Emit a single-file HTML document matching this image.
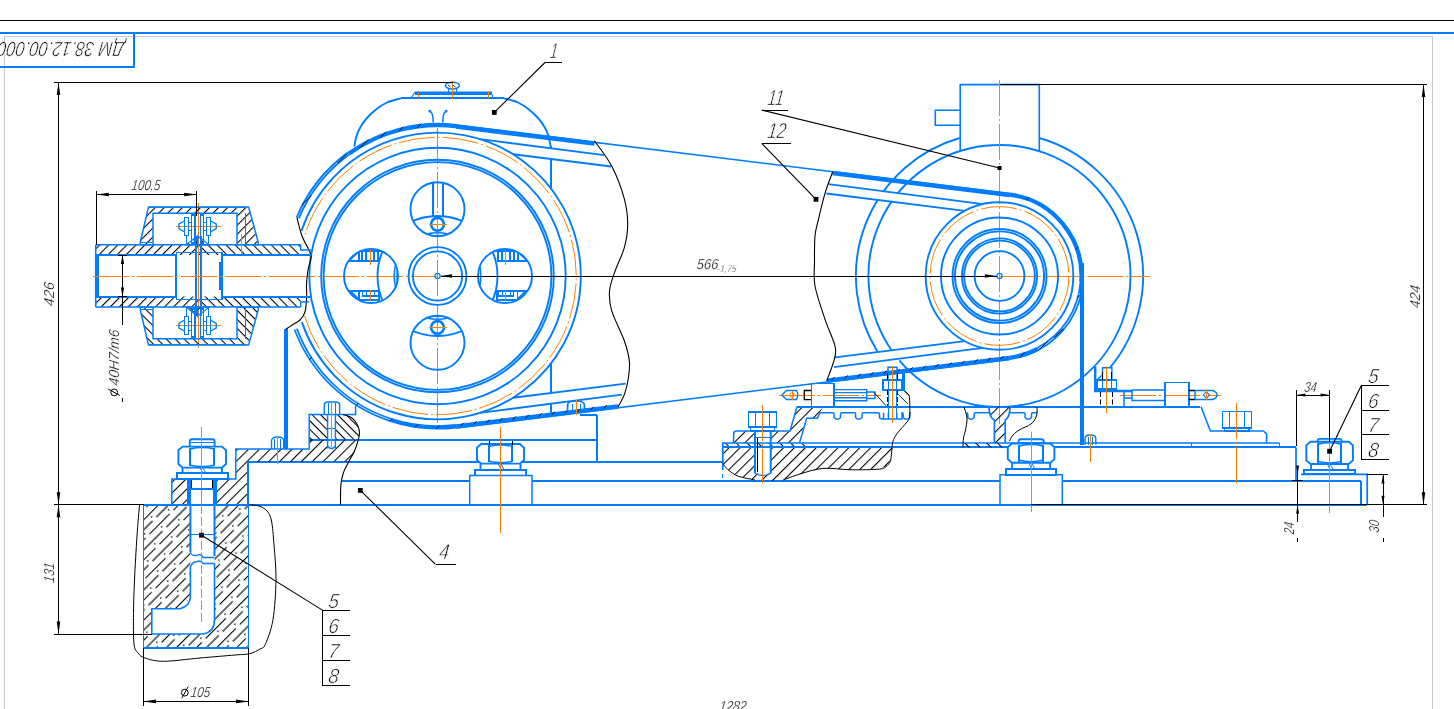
<!DOCTYPE html>
<html><head><meta charset="utf-8"><title>drawing</title>
<style>
html,body{margin:0;padding:0;background:#fff;overflow:hidden}
svg{display:block}
text{font-family:"Liberation Sans",sans-serif;}
svg{will-change:transform;}
</style></head><body>
<svg width="1454" height="709" viewBox="0 0 1454 709">
<rect width="1454" height="709" fill="#fff"/>
<defs>
<pattern id="hA" width="7.7" height="7.7" patternUnits="userSpaceOnUse" patternTransform="rotate(-45)"><line x1="0" y1="0.5" x2="7.7" y2="0.5" stroke="#000" stroke-width="1.15"/></pattern>
<pattern id="hB" width="7.7" height="7.7" patternUnits="userSpaceOnUse" patternTransform="rotate(45)"><line x1="0" y1="0.5" x2="7.7" y2="0.5" stroke="#000" stroke-width="1.15"/></pattern>
<pattern id="hC" width="6.4" height="6.4" patternUnits="userSpaceOnUse" patternTransform="rotate(-45)"><line x1="0" y1="0.5" x2="6.4" y2="0.5" stroke="#000" stroke-width="1.15"/></pattern>
<pattern id="hD" width="6.4" height="6.4" patternUnits="userSpaceOnUse" patternTransform="rotate(45)"><line x1="0" y1="0.5" x2="6.4" y2="0.5" stroke="#000" stroke-width="1.15"/></pattern>
<pattern id="hE" width="6.0" height="6.0" patternUnits="userSpaceOnUse" patternTransform="rotate(45)"><line x1="0" y1="0.5" x2="6.0" y2="0.5" stroke="#000" stroke-width="1.15"/></pattern>
<pattern id="conc" width="34" height="14.2" patternUnits="userSpaceOnUse" patternTransform="rotate(-45)"><line x1="0" y1="0.5" x2="28.5" y2="0.5" stroke="#000" stroke-width="1.15"/><line x1="17" y1="7.6" x2="34" y2="7.6" stroke="#000" stroke-width="1.15"/><line x1="0" y1="7.6" x2="11.5" y2="7.6" stroke="#000" stroke-width="1.15"/><rect x="13" y="3.4" width="1.4" height="1.4" fill="#000"/><rect x="30" y="10.4" width="1.4" height="1.4" fill="#000"/></pattern>
</defs>
<path d="M1109.83 367.92 A143.60 143.60 0 0 0 1039.32 138.03" fill="none" stroke="#007dff" stroke-width="1.9" />
<path d="M959.68 138.03 A143.60 143.60 0 0 0 877.46 351.67" fill="none" stroke="#007dff" stroke-width="1.9" />
<path d="M899.30 360.38 A131.00 131.00 0 1 0 891.54 350.20" fill="none" stroke="#007dff" stroke-width="1.9" />
<path d="M960.2 151 V84.6 H1039.3 V151" fill="none" stroke="#007dff" stroke-width="1.6" />
<path d="M960.2 110.3 H935.3 V125.2 H960.2" fill="none" stroke="#007dff" stroke-width="1.6" />
<path d="M354.40 146.50 C354.75 144.75 355.48 139.25 356.50 136.00 C357.52 132.75 358.75 130.00 360.50 127.00 C362.25 124.00 364.42 120.92 367.00 118.00 C369.58 115.08 372.67 112.08 376.00 109.50 C379.33 106.92 382.83 104.37 387.00 102.50 C391.17 100.63 398.67 99.00 401.00 98.30" fill="none" stroke="#007dff" stroke-width="1.9" />
<path d="M550.60 146.50 C550.25 144.75 549.52 139.25 548.50 136.00 C547.48 132.75 546.25 130.00 544.50 127.00 C542.75 124.00 540.58 120.92 538.00 118.00 C535.42 115.08 532.33 112.08 529.00 109.50 C525.67 106.92 522.17 104.37 518.00 102.50 C513.83 100.63 506.33 99.00 504.00 98.30" fill="none" stroke="#007dff" stroke-width="1.9" />
<line x1="401.00" y1="98.00" x2="504.00" y2="98.00" stroke="#007dff" stroke-width="2"  shape-rendering="crispEdges"/>
<line x1="551.00" y1="146.00" x2="551.00" y2="187.70" stroke="#007dff" stroke-width="2"  shape-rendering="crispEdges"/>
<line x1="551.00" y1="364.00" x2="551.00" y2="413.60" stroke="#007dff" stroke-width="2"  shape-rendering="crispEdges"/>
<path d="M479.83 139.10 L604.00 155.13 L611.20 166.55 L513.09 154.26 Z" fill="#fff" stroke="none" stroke-width="0" />
<path d="M828.50 184.14 L982.93 204.08 L964.78 210.88 L826.30 193.52 Z" fill="#fff" stroke="none" stroke-width="0" />
<path d="M479.83 412.90 L621.80 394.57 L625.70 383.63 L513.09 397.74 Z" fill="#fff" stroke="none" stroke-width="0" />
<path d="M833.90 367.17 L982.93 347.92 L964.78 341.12 L835.00 357.39 Z" fill="#fff" stroke="none" stroke-width="0" />
<line x1="0.00" y1="20.50" x2="1454.00" y2="20.50" stroke="#000" stroke-width="1"  shape-rendering="crispEdges"/>
<line x1="0.00" y1="33.00" x2="1454.00" y2="33.00" stroke="#007dff" stroke-width="2"  shape-rendering="crispEdges"/>
<path d="M4.5 709 V36.5 H1432.5 V709" fill="none" stroke="#c8c8c8" stroke-width="1" />
<path d="M133.7 33 V66.8 H0" fill="none" stroke="#007dff" stroke-width="2.0" shape-rendering="crispEdges"/>
<text transform="translate(125.20 41.60) rotate(180) skewX(-7)" x="0" y="0" font-size="20.5" text-anchor="start" fill="#000" font-style="italic" stroke="#fff" stroke-width="0.6" paint-order="fill stroke" textLength="127" lengthAdjust="spacingAndGlyphs" >ДМ 38.12.00.000</text>
<line x1="437.50" y1="128.00" x2="437.50" y2="423.00" stroke="#ff8000" stroke-width="1" stroke-dasharray="36 3 2 3"/>
<line x1="279.00" y1="276.50" x2="437.50" y2="276.50" stroke="#ff8000" stroke-width="1" stroke-dasharray="36 3 2 3"/>
<path d="M456.04 126.14 A151.00 151.00 0 0 0 348.74 153.84" fill="none" stroke="#007dff" stroke-width="4.3" />
<path d="M349.21 154.49 A150.20 150.20 0 0 0 298.83 218.28" fill="none" stroke="#007dff" stroke-width="1.9" />
<path d="M347.86 152.62 A152.50 152.50 0 0 0 296.71 217.39" fill="none" stroke="#007dff" stroke-width="1.9" />
<path d="M390.71 419.99 A151.40 151.40 0 0 0 456.09 426.25" fill="none" stroke="#007dff" stroke-width="4.3" />
<path d="M296.81 328.60 A150.20 150.20 0 0 0 391.09 418.85" fill="none" stroke="#007dff" stroke-width="1.7" />
<path d="M294.56 329.44 A152.60 152.60 0 0 0 390.34 421.13" fill="none" stroke="#007dff" stroke-width="1.7" />
<line x1="417.11" y1="127.78" x2="421.01" y2="123.88" stroke="#000" stroke-width="0.9" />
<line x1="398.56" y1="131.53" x2="403.23" y2="126.86" stroke="#000" stroke-width="0.9" />
<line x1="380.32" y1="137.70" x2="386.23" y2="131.79" stroke="#000" stroke-width="0.9" />
<line x1="359.79" y1="148.03" x2="368.51" y2="139.31" stroke="#000" stroke-width="0.9" />
<line x1="337.69" y1="163.01" x2="346.88" y2="153.82" stroke="#000" stroke-width="0.9" />
<line x1="301.87" y1="204.95" x2="311.07" y2="195.75" stroke="#000" stroke-width="0.9" />
<line x1="309.38" y1="359.63" x2="311.84" y2="357.17" stroke="#000" stroke-width="0.9" />
<line x1="356.09" y1="405.54" x2="358.56" y2="403.08" stroke="#000" stroke-width="0.9" />
<line x1="389.40" y1="421.24" x2="392.09" y2="418.55" stroke="#000" stroke-width="0.9" />
<line x1="414.94" y1="427.33" x2="417.95" y2="424.32" stroke="#000" stroke-width="0.9" />
<line x1="435.80" y1="429.00" x2="439.20" y2="425.60" stroke="#000" stroke-width="0.9" />
<path d="M301.85 322.18 A143.30 143.30 0 1 0 301.45 231.00" fill="none" stroke="#007dff" stroke-width="1.9" />
<path d="M304.55 315.89 A138.80 138.80 0 1 0 304.01 237.97" fill="none" stroke="#ff8000" stroke-width="1" stroke-dasharray="36 3 2 3"/>
<circle cx="437.50" cy="276.00" r="128.20" fill="none" stroke="#007dff" stroke-width="1.9" />
<circle cx="437.50" cy="276.00" r="116.30" fill="none" stroke="#007dff" stroke-width="1.9" />
<circle cx="437.50" cy="276.00" r="113.90" fill="none" stroke="#007dff" stroke-width="1.9" />
<circle cx="437.50" cy="276.00" r="28.90" fill="none" stroke="#007dff" stroke-width="1.9" />
<circle cx="437.50" cy="276.00" r="24.60" fill="none" stroke="#007dff" stroke-width="1.9" />
<circle cx="437.50" cy="276.00" r="2.60" fill="none" stroke="#007dff" stroke-width="1.2" />
<defs>
<clipPath id="h0"><circle cx="437.5" cy="209.2" r="27.0"/></clipPath>
<clipPath id="h1"><circle cx="437.5" cy="342.8" r="27.0"/></clipPath>
<clipPath id="h2"><circle cx="371.0" cy="276.0" r="27.0"/></clipPath>
<clipPath id="h3"><circle cx="505.0" cy="276.0" r="27.0"/></clipPath>
</defs>
<g clip-path="url(#h0)">
<circle cx="437.50" cy="276.00" r="60.00" fill="none" stroke="#007dff" stroke-width="1.9" />
<circle cx="437.50" cy="276.00" r="40.50" fill="none" stroke="#007dff" stroke-width="1.5" />
<circle cx="437.50" cy="276.00" r="43.30" fill="none" stroke="#007dff" stroke-width="1.5" />
<line x1="433.00" y1="180.00" x2="433.00" y2="216.40" stroke="#007dff" stroke-width="2"  shape-rendering="crispEdges"/>
<line x1="443.00" y1="180.00" x2="443.00" y2="216.40" stroke="#007dff" stroke-width="2"  shape-rendering="crispEdges"/>
<circle cx="437.50" cy="224.30" r="6.40" fill="none" stroke="#007dff" stroke-width="2.6" />
</g>
<circle cx="437.50" cy="209.20" r="27.00" fill="none" stroke="#007dff" stroke-width="1.9" />
<g clip-path="url(#h1)">
<circle cx="437.50" cy="276.00" r="60.00" fill="none" stroke="#007dff" stroke-width="1.9" />
<circle cx="437.50" cy="276.00" r="40.50" fill="none" stroke="#007dff" stroke-width="1.5" />
<circle cx="437.50" cy="276.00" r="43.30" fill="none" stroke="#007dff" stroke-width="1.5" />
<circle cx="437.50" cy="327.50" r="6.40" fill="none" stroke="#007dff" stroke-width="2.6" />
</g>
<circle cx="437.50" cy="342.80" r="27.00" fill="none" stroke="#007dff" stroke-width="1.9" />
<g clip-path="url(#h2)">
<circle cx="437.50" cy="276.00" r="60.00" fill="none" stroke="#007dff" stroke-width="1.9" />
<circle cx="437.50" cy="276.00" r="40.50" fill="none" stroke="#007dff" stroke-width="1.5" />
<circle cx="437.50" cy="276.00" r="43.30" fill="none" stroke="#007dff" stroke-width="1.5" />
<line x1="340.00" y1="261.00" x2="379.40" y2="261.00" stroke="#007dff" stroke-width="2"  shape-rendering="crispEdges"/>
<line x1="348.30" y1="261.20" x2="358.70" y2="251.30" stroke="#007dff" stroke-width="1.9" />
<line x1="359.00" y1="251.30" x2="359.00" y2="261.20" stroke="#007dff" stroke-width="2"  shape-rendering="crispEdges"/>
<line x1="362.00" y1="251.30" x2="362.00" y2="260.40" stroke="#007dff" stroke-width="2"  shape-rendering="crispEdges"/>
<line x1="366.00" y1="251.30" x2="366.00" y2="260.40" stroke="#007dff" stroke-width="2"  shape-rendering="crispEdges"/>
<line x1="374.00" y1="251.30" x2="374.00" y2="260.40" stroke="#007dff" stroke-width="2"  shape-rendering="crispEdges"/>
<line x1="378.00" y1="251.30" x2="378.00" y2="260.40" stroke="#007dff" stroke-width="2"  shape-rendering="crispEdges"/>
<line x1="358.70" y1="251.00" x2="382.40" y2="251.00" stroke="#007dff" stroke-width="2"  shape-rendering="crispEdges"/>
<line x1="340.00" y1="291.00" x2="379.40" y2="291.00" stroke="#007dff" stroke-width="2"  shape-rendering="crispEdges"/>
<line x1="349.80" y1="290.70" x2="358.70" y2="299.20" stroke="#007dff" stroke-width="1.9" />
<rect x="358.70" y="290.70" width="20.70" height="8.90" fill="none" stroke="#007dff" stroke-width="1.9"  shape-rendering="crispEdges"/>
<line x1="362.50" y1="292.20" x2="362.50" y2="296.20" stroke="#007dff" stroke-width="1"  shape-rendering="crispEdges"/>
<line x1="366.50" y1="292.20" x2="366.50" y2="296.20" stroke="#007dff" stroke-width="1"  shape-rendering="crispEdges"/>
<line x1="374.50" y1="292.20" x2="374.50" y2="296.20" stroke="#007dff" stroke-width="1"  shape-rendering="crispEdges"/>
<line x1="378.50" y1="292.20" x2="378.50" y2="296.20" stroke="#007dff" stroke-width="1"  shape-rendering="crispEdges"/>
<line x1="362.40" y1="296.00" x2="378.00" y2="296.00" stroke="#007dff" stroke-width="2"  shape-rendering="crispEdges"/>
</g>
<circle cx="371.00" cy="276.00" r="27.00" fill="none" stroke="#007dff" stroke-width="1.9" />
<g clip-path="url(#h3)">
<circle cx="437.50" cy="276.00" r="60.00" fill="none" stroke="#007dff" stroke-width="1.9" />
<circle cx="437.50" cy="276.00" r="40.50" fill="none" stroke="#007dff" stroke-width="1.5" />
<circle cx="437.50" cy="276.00" r="43.30" fill="none" stroke="#007dff" stroke-width="1.5" />
<line x1="536.20" y1="261.00" x2="496.80" y2="261.00" stroke="#007dff" stroke-width="2"  shape-rendering="crispEdges"/>
<line x1="527.90" y1="261.20" x2="517.50" y2="251.30" stroke="#007dff" stroke-width="1.9" />
<line x1="518.00" y1="251.30" x2="518.00" y2="261.20" stroke="#007dff" stroke-width="2"  shape-rendering="crispEdges"/>
<line x1="514.00" y1="251.30" x2="514.00" y2="260.40" stroke="#007dff" stroke-width="2"  shape-rendering="crispEdges"/>
<line x1="510.00" y1="251.30" x2="510.00" y2="260.40" stroke="#007dff" stroke-width="2"  shape-rendering="crispEdges"/>
<line x1="502.00" y1="251.30" x2="502.00" y2="260.40" stroke="#007dff" stroke-width="2"  shape-rendering="crispEdges"/>
<line x1="498.00" y1="251.30" x2="498.00" y2="260.40" stroke="#007dff" stroke-width="2"  shape-rendering="crispEdges"/>
<line x1="517.50" y1="251.00" x2="493.80" y2="251.00" stroke="#007dff" stroke-width="2"  shape-rendering="crispEdges"/>
<line x1="536.20" y1="291.00" x2="496.80" y2="291.00" stroke="#007dff" stroke-width="2"  shape-rendering="crispEdges"/>
<line x1="526.40" y1="290.70" x2="517.50" y2="299.20" stroke="#007dff" stroke-width="1.9" />
<rect x="496.80" y="290.70" width="20.70" height="8.90" fill="none" stroke="#007dff" stroke-width="1.9"  shape-rendering="crispEdges"/>
<line x1="513.50" y1="292.20" x2="513.50" y2="296.20" stroke="#007dff" stroke-width="1"  shape-rendering="crispEdges"/>
<line x1="510.50" y1="292.20" x2="510.50" y2="296.20" stroke="#007dff" stroke-width="1"  shape-rendering="crispEdges"/>
<line x1="502.50" y1="292.20" x2="502.50" y2="296.20" stroke="#007dff" stroke-width="1"  shape-rendering="crispEdges"/>
<line x1="498.50" y1="292.20" x2="498.50" y2="296.20" stroke="#007dff" stroke-width="1"  shape-rendering="crispEdges"/>
<line x1="513.80" y1="296.00" x2="498.20" y2="296.00" stroke="#007dff" stroke-width="2"  shape-rendering="crispEdges"/>
</g>
<circle cx="505.00" cy="276.00" r="27.00" fill="none" stroke="#007dff" stroke-width="1.9" />
<line x1="428.50" y1="224.50" x2="446.50" y2="224.50" stroke="#ff8000" stroke-width="1"  shape-rendering="crispEdges"/>
<line x1="428.50" y1="327.50" x2="446.50" y2="327.50" stroke="#ff8000" stroke-width="1"  shape-rendering="crispEdges"/>
<line x1="370.50" y1="249.00" x2="370.50" y2="265.00" stroke="#ff8000" stroke-width="1"  shape-rendering="crispEdges"/>
<line x1="370.50" y1="290.00" x2="370.50" y2="300.00" stroke="#ff8000" stroke-width="1"  shape-rendering="crispEdges"/>
<line x1="505.50" y1="249.00" x2="505.50" y2="265.00" stroke="#ff8000" stroke-width="1"  shape-rendering="crispEdges"/>
<line x1="505.50" y1="290.00" x2="505.50" y2="300.00" stroke="#ff8000" stroke-width="1"  shape-rendering="crispEdges"/>
<line x1="999.50" y1="80.00" x2="999.50" y2="424.00" stroke="#ff8000" stroke-width="1" stroke-dasharray="36 3 2 3"/>
<line x1="999.50" y1="276.50" x2="1150.00" y2="276.50" stroke="#ff8000" stroke-width="1" stroke-dasharray="36 3 2 3"/>
<path d="M1081.30 281.72 A82.00 82.00 0 0 0 1009.57 194.62" fill="none" stroke="#007dff" stroke-width="4.3" />
<path d="M1009.62 357.78 A82.40 82.40 0 0 0 1038.18 348.75" fill="none" stroke="#007dff" stroke-width="4.3" />
<path d="M1037.62 347.70 A81.20 81.20 0 0 0 1080.50 281.66" fill="none" stroke="#007dff" stroke-width="1.7" />
<path d="M1038.75 349.81 A83.60 83.60 0 0 0 1082.90 281.83" fill="none" stroke="#007dff" stroke-width="1.7" />
<line x1="1019.71" y1="357.59" x2="1024.66" y2="352.63" stroke="#000" stroke-width="0.9" />
<line x1="1038.52" y1="350.39" x2="1047.71" y2="341.20" stroke="#000" stroke-width="0.9" />
<line x1="1054.11" y1="337.77" x2="1063.30" y2="328.57" stroke="#000" stroke-width="0.9" />
<line x1="1077.02" y1="298.24" x2="1081.69" y2="293.58" stroke="#000" stroke-width="0.9" />
<line x1="1080.07" y1="273.31" x2="1083.30" y2="270.08" stroke="#000" stroke-width="0.9" />
<line x1="1075.51" y1="249.18" x2="1078.16" y2="246.53" stroke="#000" stroke-width="0.9" />
<line x1="1026.32" y1="199.99" x2="1028.97" y2="197.34" stroke="#000" stroke-width="0.9" />
<circle cx="999.50" cy="276.00" r="73.80" fill="none" stroke="#007dff" stroke-width="1.9" />
<circle cx="999.50" cy="276.00" r="69.40" fill="none" stroke="#ff8000" stroke-width="1" stroke-dasharray="36 3 2 3"/>
<circle cx="999.50" cy="276.00" r="58.50" fill="none" stroke="#007dff" stroke-width="1.9" />
<circle cx="999.50" cy="276.00" r="47.00" fill="none" stroke="#007dff" stroke-width="1.9" />
<circle cx="999.50" cy="276.00" r="44.60" fill="none" stroke="#007dff" stroke-width="1.9" />
<circle cx="999.50" cy="276.00" r="37.60" fill="none" stroke="#007dff" stroke-width="1.9" />
<circle cx="999.50" cy="276.00" r="35.40" fill="none" stroke="#007dff" stroke-width="1.9" />
<circle cx="999.50" cy="276.00" r="24.90" fill="none" stroke="#007dff" stroke-width="1.9" />
<circle cx="999.50" cy="276.00" r="2.60" fill="none" stroke="#007dff" stroke-width="1.2" />
<line x1="456.16" y1="125.15" x2="1009.69" y2="193.63" stroke="#007dff" stroke-width="1.7" />
<line x1="456.16" y1="126.45" x2="594.40" y2="143.55" stroke="#007dff" stroke-width="4.5" />
<line x1="832.50" y1="173.01" x2="1009.69" y2="194.93" stroke="#007dff" stroke-width="4.5" />
<line x1="479.83" y1="139.10" x2="604.00" y2="155.13" stroke="#007dff" stroke-width="1.9" />
<line x1="828.50" y1="184.14" x2="982.93" y2="204.08" stroke="#007dff" stroke-width="1.9" />
<line x1="513.09" y1="154.26" x2="611.20" y2="166.55" stroke="#007dff" stroke-width="1.9" />
<line x1="826.30" y1="193.52" x2="964.78" y2="210.88" stroke="#007dff" stroke-width="1.9" />
<line x1="456.16" y1="427.85" x2="1009.69" y2="359.37" stroke="#007dff" stroke-width="1.7" />
<line x1="456.16" y1="426.55" x2="618.00" y2="406.53" stroke="#007dff" stroke-width="4.5" />
<line x1="827.00" y1="380.67" x2="1009.69" y2="358.07" stroke="#007dff" stroke-width="4.5" />
<line x1="460.56" y1="426.21" x2="463.76" y2="422.81" stroke="#000" stroke-width="0.9" />
<line x1="473.56" y1="424.60" x2="476.76" y2="421.20" stroke="#000" stroke-width="0.9" />
<line x1="486.56" y1="422.99" x2="489.76" y2="419.59" stroke="#000" stroke-width="0.9" />
<line x1="499.56" y1="421.38" x2="502.76" y2="417.98" stroke="#000" stroke-width="0.9" />
<line x1="512.56" y1="419.77" x2="515.76" y2="416.37" stroke="#000" stroke-width="0.9" />
<line x1="525.56" y1="418.17" x2="528.76" y2="414.77" stroke="#000" stroke-width="0.9" />
<line x1="538.56" y1="416.56" x2="541.76" y2="413.16" stroke="#000" stroke-width="0.9" />
<line x1="551.56" y1="414.95" x2="554.76" y2="411.55" stroke="#000" stroke-width="0.9" />
<line x1="564.56" y1="413.34" x2="567.76" y2="409.94" stroke="#000" stroke-width="0.9" />
<line x1="577.56" y1="411.73" x2="580.76" y2="408.33" stroke="#000" stroke-width="0.9" />
<line x1="590.56" y1="410.13" x2="593.76" y2="406.73" stroke="#000" stroke-width="0.9" />
<line x1="603.56" y1="408.52" x2="606.76" y2="405.12" stroke="#000" stroke-width="0.9" />
<line x1="831.40" y1="380.33" x2="834.60" y2="376.93" stroke="#000" stroke-width="0.9" />
<line x1="844.40" y1="378.72" x2="847.60" y2="375.32" stroke="#000" stroke-width="0.9" />
<line x1="857.40" y1="377.11" x2="860.60" y2="373.71" stroke="#000" stroke-width="0.9" />
<line x1="870.40" y1="375.51" x2="873.60" y2="372.11" stroke="#000" stroke-width="0.9" />
<line x1="883.40" y1="373.90" x2="886.60" y2="370.50" stroke="#000" stroke-width="0.9" />
<line x1="896.40" y1="372.29" x2="899.60" y2="368.89" stroke="#000" stroke-width="0.9" />
<line x1="909.40" y1="370.68" x2="912.60" y2="367.28" stroke="#000" stroke-width="0.9" />
<line x1="922.40" y1="369.07" x2="925.60" y2="365.67" stroke="#000" stroke-width="0.9" />
<line x1="935.40" y1="367.46" x2="938.60" y2="364.06" stroke="#000" stroke-width="0.9" />
<line x1="948.40" y1="365.86" x2="951.60" y2="362.46" stroke="#000" stroke-width="0.9" />
<line x1="961.40" y1="364.25" x2="964.60" y2="360.85" stroke="#000" stroke-width="0.9" />
<line x1="974.40" y1="362.64" x2="977.60" y2="359.24" stroke="#000" stroke-width="0.9" />
<line x1="987.40" y1="361.03" x2="990.60" y2="357.63" stroke="#000" stroke-width="0.9" />
<line x1="1000.40" y1="359.42" x2="1003.60" y2="356.02" stroke="#000" stroke-width="0.9" />
<line x1="479.83" y1="412.90" x2="621.80" y2="394.57" stroke="#007dff" stroke-width="1.9" />
<line x1="833.90" y1="367.17" x2="982.93" y2="347.92" stroke="#007dff" stroke-width="1.9" />
<line x1="513.09" y1="397.74" x2="625.70" y2="383.63" stroke="#007dff" stroke-width="1.9" />
<line x1="835.00" y1="357.39" x2="964.78" y2="341.12" stroke="#007dff" stroke-width="1.9" />
<line x1="1082.00" y1="263.00" x2="1082.00" y2="444.70" stroke="#007dff" stroke-width="4"  shape-rendering="crispEdges"/>
<line x1="286.00" y1="329.00" x2="286.00" y2="449.00" stroke="#007dff" stroke-width="4"  shape-rendering="crispEdges"/>
<path d="M296.90 217.50 C297.75 220.58 299.88 230.35 302.00 236.00 C304.12 241.65 308.10 247.73 309.60 251.40 C311.10 255.07 311.27 254.90 311.00 258.00 C310.73 261.10 308.75 265.50 308.00 270.00 C307.25 274.50 306.72 280.67 306.50 285.00 C306.28 289.33 306.95 291.50 306.70 296.00 C306.45 300.50 306.12 308.00 305.00 312.00 C303.88 316.00 302.00 317.92 300.00 320.00 C298.00 322.08 295.38 322.95 293.00 324.50 C290.62 326.05 286.92 328.50 285.70 329.30" fill="none" stroke="#000" stroke-width="1.1" />
<path d="M594.40 140.80 C597.28 145.02 606.70 156.38 611.70 166.10 C616.70 175.82 621.73 189.37 624.40 199.10 C627.07 208.83 627.70 216.45 627.70 224.50 C627.70 232.55 626.43 239.82 624.40 247.40 C622.37 254.98 617.97 262.85 615.50 270.00 C613.03 277.15 610.23 283.53 609.60 290.30 C608.97 297.07 609.23 302.15 611.70 310.60 C614.17 319.05 621.45 332.53 624.40 341.00 C627.35 349.47 628.77 355.07 629.40 361.40 C630.03 367.73 629.03 373.50 628.20 379.00 C627.37 384.50 626.10 389.73 624.40 394.40 C622.70 399.07 619.07 404.90 618.00 407.00" fill="none" stroke="#000" stroke-width="1.1" />
<path d="M832.70 171.70 C831.42 175.30 827.40 185.25 825.00 193.30 C822.60 201.35 819.97 212.88 818.30 220.00 C816.63 227.12 815.63 229.00 815.00 236.00 C814.37 243.00 814.50 253.67 814.50 262.00 C814.50 270.33 813.25 276.45 815.00 286.00 C816.75 295.55 821.67 309.30 825.00 319.30 C828.33 329.30 833.45 339.33 835.00 346.00 C836.55 352.67 835.68 353.47 834.30 359.30 C832.92 365.13 827.97 377.38 826.70 381.00" fill="none" stroke="#000" stroke-width="1.1" />
<path d="M411.00 98.30 L415.00 92.00 L491.30 92.00 L493.00 98.30" fill="none" stroke="#007dff" stroke-width="1.2" />
<line x1="415.00" y1="93.50" x2="491.30" y2="93.50" stroke="#007dff" stroke-width="3"  shape-rendering="crispEdges"/>
<line x1="418.50" y1="93.00" x2="418.50" y2="98.00" stroke="#ff8000" stroke-width="1"  shape-rendering="crispEdges"/>
<line x1="488.50" y1="91.00" x2="488.50" y2="98.00" stroke="#ff8000" stroke-width="1"  shape-rendering="crispEdges"/>
<ellipse cx="452.4" cy="85.6" rx="7" ry="3.4" fill="none" stroke="#007dff" stroke-width="1.5"/>
<line x1="448.50" y1="88.60" x2="448.50" y2="92.00" stroke="#007dff" stroke-width="1"  shape-rendering="crispEdges"/>
<line x1="456.50" y1="88.60" x2="456.50" y2="92.00" stroke="#007dff" stroke-width="1"  shape-rendering="crispEdges"/>
<line x1="452.50" y1="81.00" x2="452.50" y2="99.00" stroke="#ff8000" stroke-width="1"  shape-rendering="crispEdges"/>
<line x1="448.00" y1="85.00" x2="450.50" y2="87.00" stroke="#000" stroke-width="0.8" />
<line x1="453.00" y1="85.00" x2="455.50" y2="87.00" stroke="#000" stroke-width="0.8" />
<path d="M429.8 111.2 Q433.4 112.5 433.2 122.6" fill="none" stroke="#007dff" stroke-width="1.5" />
<path d="M446.2 111.2 Q442.6 112.5 442.8 122.6" fill="none" stroke="#007dff" stroke-width="1.5" />
<circle cx="429.80" cy="111.20" r="0.80" fill="none" stroke="#007dff" stroke-width="1.2" />
<circle cx="446.20" cy="111.20" r="0.80" fill="none" stroke="#007dff" stroke-width="1.2" />
<path d="M95.70 244.80 L198.00 244.80 L198.00 255.00 L95.70 255.00 Z" fill="url(#hC)" fill-rule="evenodd" stroke="none"/>
<path d="M198.00 244.80 L300.70 244.80 L300.70 255.00 L198.00 255.00 Z" fill="url(#hD)" fill-rule="evenodd" stroke="none"/>
<path d="M95.70 296.60 L198.00 296.60 L198.00 307.00 L95.70 307.00 Z" fill="url(#hC)" fill-rule="evenodd" stroke="none"/>
<path d="M198.00 296.60 L300.70 296.60 L300.70 307.00 L198.00 307.00 Z" fill="url(#hD)" fill-rule="evenodd" stroke="none"/>
<path d="M95.7 244.8 H300.7 M95.7 307 H300.7 M95.7 244.8 V307" fill="none" stroke="#007dff" stroke-width="1.6" />
<line x1="97.50" y1="255.00" x2="97.50" y2="296.60" stroke="#007dff" stroke-width="3"  shape-rendering="crispEdges"/>
<line x1="95.70" y1="255.00" x2="176.40" y2="255.00" stroke="#007dff" stroke-width="2"  shape-rendering="crispEdges"/>
<line x1="95.70" y1="297.00" x2="176.40" y2="297.00" stroke="#007dff" stroke-width="2"  shape-rendering="crispEdges"/>
<line x1="222.00" y1="255.00" x2="311.00" y2="255.00" stroke="#007dff" stroke-width="2"  shape-rendering="crispEdges"/>
<line x1="222.00" y1="297.00" x2="311.00" y2="297.00" stroke="#007dff" stroke-width="2"  shape-rendering="crispEdges"/>
<path d="M300.7 244.8 V250 H311 M300.7 307 V302 H309" fill="none" stroke="#007dff" stroke-width="1.4" />
<rect x="176.40" y="252.50" width="45.60" height="47.00" fill="none" stroke="#007dff" stroke-width="1.5"  shape-rendering="crispEdges"/>
<line x1="176.00" y1="255.00" x2="176.00" y2="296.60" stroke="#007dff" stroke-width="2"  shape-rendering="crispEdges"/>
<line x1="220.50" y1="262.00" x2="220.50" y2="290.00" stroke="#007dff" stroke-width="3"  shape-rendering="crispEdges"/>
<line x1="196.00" y1="236.00" x2="196.00" y2="316.00" stroke="#007dff" stroke-width="2"  shape-rendering="crispEdges"/>
<line x1="201.00" y1="236.00" x2="201.00" y2="316.00" stroke="#007dff" stroke-width="2"  shape-rendering="crispEdges"/>
<line x1="93.00" y1="276.50" x2="300.00" y2="276.50" stroke="#ff8000" stroke-width="1" stroke-dasharray="36 3 2 3"/>
<line x1="198.50" y1="203.00" x2="198.50" y2="348.00" stroke="#ff8000" stroke-width="1"  shape-rendering="crispEdges"/>
<path d="M140.30 310.00 L148.50 345.10 L248.60 345.10 L258.20 310.00 L258.20 307.20 L237.00 307.20 L237.00 338.70 L153.00 338.70 L153.00 307.20 L140.30 307.20 Z" fill="url(#hD)" fill-rule="evenodd" stroke="none"/>
<path d="M140.30 310.00 L148.50 345.10 L248.60 345.10 L258.20 310.00 L258.20 307.20 L237.00 307.20 L237.00 338.70 L153.00 338.70 L153.00 307.20 L140.30 307.20 Z" fill="none" stroke="#007dff" stroke-width="1.5" />
<line x1="148.50" y1="344.50" x2="247.40" y2="344.50" stroke="#007dff" stroke-width="1"  shape-rendering="crispEdges"/>
<line x1="245.50" y1="338.70" x2="245.50" y2="308.00" stroke="#007dff" stroke-width="1"  shape-rendering="crispEdges"/>
<path d="M197.60 316.00 L209.20 307.20 L197.60 307.20 Z" fill="url(#hC)" fill-rule="evenodd" stroke="none"/>
<path d="M197.60 316.00 L209.20 307.20 L197.60 307.20 Z" fill="none" stroke="#007dff" stroke-width="1.2" />
<path d="M197.60 316.00 L186.00 307.20 L197.60 307.20 Z" fill="url(#hD)" fill-rule="evenodd" stroke="none"/>
<path d="M197.60 316.00 L186.00 307.20 L197.60 307.20 Z" fill="none" stroke="#007dff" stroke-width="1.2" />
<line x1="176.00" y1="325.50" x2="221.00" y2="325.50" stroke="#ff8000" stroke-width="1"  shape-rendering="crispEdges"/>
<rect x="200.20" y="309.00" width="3.50" height="28.00" fill="none" stroke="#007dff" stroke-width="1.3"  shape-rendering="crispEdges"/>
<rect x="206.70" y="316.50" width="4.00" height="18.00" fill="none" stroke="#007dff" stroke-width="1.4"  shape-rendering="crispEdges"/>
<path d="M210.7 331.0 L216.2 328.0 V323.4 L210.7 320.0" fill="none" stroke="#007dff" stroke-width="1.4" />
<line x1="206.70" y1="330.50" x2="203.70" y2="330.50" stroke="#007dff" stroke-width="1"  shape-rendering="crispEdges"/>
<line x1="206.70" y1="321.50" x2="203.70" y2="321.50" stroke="#007dff" stroke-width="1"  shape-rendering="crispEdges"/>
<line x1="208.50" y1="316.00" x2="208.50" y2="307.20" stroke="#007dff" stroke-width="1"  shape-rendering="crispEdges"/>
<rect x="191.50" y="309.00" width="3.50" height="28.00" fill="none" stroke="#007dff" stroke-width="1.3"  shape-rendering="crispEdges"/>
<rect x="184.50" y="316.50" width="4.00" height="18.00" fill="none" stroke="#007dff" stroke-width="1.4"  shape-rendering="crispEdges"/>
<path d="M184.5 331.0 L179.0 328.0 V323.4 L184.5 320.0" fill="none" stroke="#007dff" stroke-width="1.4" />
<line x1="188.50" y1="330.50" x2="191.50" y2="330.50" stroke="#007dff" stroke-width="1"  shape-rendering="crispEdges"/>
<line x1="188.50" y1="321.50" x2="191.50" y2="321.50" stroke="#007dff" stroke-width="1"  shape-rendering="crispEdges"/>
<line x1="186.50" y1="316.00" x2="186.50" y2="307.20" stroke="#007dff" stroke-width="1"  shape-rendering="crispEdges"/>
<path d="M140.30 242.00 L148.50 206.90 L248.60 206.90 L258.20 242.00 L258.20 244.80 L237.00 244.80 L237.00 213.30 L153.00 213.30 L153.00 244.80 L140.30 244.80 Z" fill="url(#hC)" fill-rule="evenodd" stroke="none"/>
<path d="M140.30 242.00 L148.50 206.90 L248.60 206.90 L258.20 242.00 L258.20 244.80 L237.00 244.80 L237.00 213.30 L153.00 213.30 L153.00 244.80 L140.30 244.80 Z" fill="none" stroke="#007dff" stroke-width="1.5" />
<line x1="148.50" y1="207.50" x2="247.40" y2="207.50" stroke="#007dff" stroke-width="1"  shape-rendering="crispEdges"/>
<line x1="245.50" y1="213.30" x2="245.50" y2="244.00" stroke="#007dff" stroke-width="1"  shape-rendering="crispEdges"/>
<path d="M197.60 236.00 L209.20 244.80 L197.60 244.80 Z" fill="url(#hC)" fill-rule="evenodd" stroke="none"/>
<path d="M197.60 236.00 L209.20 244.80 L197.60 244.80 Z" fill="none" stroke="#007dff" stroke-width="1.2" />
<path d="M197.60 236.00 L186.00 244.80 L197.60 244.80 Z" fill="url(#hD)" fill-rule="evenodd" stroke="none"/>
<path d="M197.60 236.00 L186.00 244.80 L197.60 244.80 Z" fill="none" stroke="#007dff" stroke-width="1.2" />
<line x1="176.00" y1="226.50" x2="221.00" y2="226.50" stroke="#ff8000" stroke-width="1"  shape-rendering="crispEdges"/>
<rect x="200.20" y="215.00" width="3.50" height="28.00" fill="none" stroke="#007dff" stroke-width="1.3"  shape-rendering="crispEdges"/>
<rect x="206.70" y="217.50" width="4.00" height="18.00" fill="none" stroke="#007dff" stroke-width="1.4"  shape-rendering="crispEdges"/>
<path d="M210.7 221.0 L216.2 224.0 V228.6 L210.7 232.0" fill="none" stroke="#007dff" stroke-width="1.4" />
<line x1="206.70" y1="222.50" x2="203.70" y2="222.50" stroke="#007dff" stroke-width="1"  shape-rendering="crispEdges"/>
<line x1="206.70" y1="230.50" x2="203.70" y2="230.50" stroke="#007dff" stroke-width="1"  shape-rendering="crispEdges"/>
<line x1="208.50" y1="236.00" x2="208.50" y2="244.80" stroke="#007dff" stroke-width="1"  shape-rendering="crispEdges"/>
<rect x="191.50" y="215.00" width="3.50" height="28.00" fill="none" stroke="#007dff" stroke-width="1.3"  shape-rendering="crispEdges"/>
<rect x="184.50" y="217.50" width="4.00" height="18.00" fill="none" stroke="#007dff" stroke-width="1.4"  shape-rendering="crispEdges"/>
<path d="M184.5 221.0 L179.0 224.0 V228.6 L184.5 232.0" fill="none" stroke="#007dff" stroke-width="1.4" />
<line x1="188.50" y1="222.50" x2="191.50" y2="222.50" stroke="#007dff" stroke-width="1"  shape-rendering="crispEdges"/>
<line x1="188.50" y1="230.50" x2="191.50" y2="230.50" stroke="#007dff" stroke-width="1"  shape-rendering="crispEdges"/>
<line x1="186.50" y1="236.00" x2="186.50" y2="244.80" stroke="#007dff" stroke-width="1"  shape-rendering="crispEdges"/>
<line x1="241.50" y1="234.00" x2="241.50" y2="254.00" stroke="#ff8000" stroke-width="1"  shape-rendering="crispEdges"/>
<line x1="140.30" y1="242.50" x2="152.00" y2="242.50" stroke="#007dff" stroke-width="1"  shape-rendering="crispEdges"/>
<line x1="140.30" y1="309.50" x2="152.00" y2="309.50" stroke="#007dff" stroke-width="1"  shape-rendering="crispEdges"/>
<line x1="143.50" y1="505.00" x2="1367.20" y2="505.00" stroke="#007dff" stroke-width="2"  shape-rendering="crispEdges"/>
<line x1="341.70" y1="481.00" x2="469.70" y2="481.00" stroke="#007dff" stroke-width="2"  shape-rendering="crispEdges"/>
<line x1="532.00" y1="481.00" x2="1000.00" y2="481.00" stroke="#007dff" stroke-width="2"  shape-rendering="crispEdges"/>
<line x1="1062.30" y1="481.00" x2="1361.30" y2="481.00" stroke="#007dff" stroke-width="2"  shape-rendering="crispEdges"/>
<line x1="1361.00" y1="481.00" x2="1361.00" y2="504.80" stroke="#007dff" stroke-width="2"  shape-rendering="crispEdges"/>
<path d="M1301 474.4 H1367.2 V504.8" fill="none" stroke="#007dff" stroke-width="1.7" />
<path d="M469.7 504.8 V475.5 H532 V504.8" fill="none" stroke="#007dff" stroke-width="1.5" />
<path d="M1000 504.8 V474.7 H1062.3 V504.8" fill="none" stroke="#007dff" stroke-width="1.5" />
<line x1="309.20" y1="440.00" x2="597.00" y2="440.00" stroke="#007dff" stroke-width="2"  shape-rendering="crispEdges"/>
<line x1="248.00" y1="462.00" x2="722.80" y2="462.00" stroke="#007dff" stroke-width="2"  shape-rendering="crispEdges"/>
<line x1="597.00" y1="414.70" x2="597.00" y2="461.70" stroke="#007dff" stroke-width="2"  shape-rendering="crispEdges"/>
<line x1="580.00" y1="415.00" x2="597.20" y2="415.00" stroke="#007dff" stroke-width="2"  shape-rendering="crispEdges"/>
<path d="M171.80 504.80 L171.80 479.10 L235.80 479.10 L235.80 449.00 L309.20 449.00 L309.20 439.80 L358.00 439.80 L357.00 447.00 L353.00 455.00 L350.50 461.70 L248.00 461.70 L248.00 504.80 Z M187.60 479.10 L216.40 479.10 L216.40 504.80 L187.60 504.80 Z M327.60 439.80 L335.40 439.80 L335.40 448.50 L327.60 448.50 Z" fill="url(#hA)" fill-rule="evenodd" stroke="none"/>
<path d="M309.20 414.50 L345.00 414.50 L352.00 418.00 L357.50 425.00 L359.50 433.00 L358.00 439.80 L309.20 439.80 Z M327.60 414.50 L335.40 414.50 L335.40 439.80 L327.60 439.80 Z" fill="url(#hE)" fill-rule="evenodd" stroke="none"/>
<path d="M171.80 504.80 L171.80 479.10 L235.80 479.10 L235.80 449.00 L309.20 449.00 L309.20 414.50 L355.60 414.50 L355.60 405.80" fill="none" stroke="#007dff" stroke-width="1.5" />
<line x1="248.00" y1="461.70" x2="248.00" y2="504.80" stroke="#007dff" stroke-width="2"  shape-rendering="crispEdges"/>
<path d="M343.00 414.50 C344.50 415.08 349.58 416.25 352.00 418.00 C354.42 419.75 356.25 422.50 357.50 425.00 C358.75 427.50 359.42 430.33 359.50 433.00 C359.58 435.67 358.92 437.83 358.00 441.00 C357.08 444.17 355.75 448.17 354.00 452.00 C352.25 455.83 349.33 460.33 347.50 464.00 C345.67 467.67 344.12 470.33 343.00 474.00 C341.88 477.67 341.22 480.87 340.80 486.00 C340.38 491.13 340.55 501.67 340.50 504.80" fill="none" stroke="#000" stroke-width="1.1" />
<path d="M327.6 448.5 V414.5 M335.4 448.5 V414.5" fill="none" stroke="#007dff" stroke-width="1.4" />
<path d="M327.6 446 Q331.5 451 335.4 446" fill="none" stroke="#007dff" stroke-width="1.3" />
<line x1="327.60" y1="428.50" x2="335.40" y2="428.50" stroke="#007dff" stroke-width="1"  shape-rendering="crispEdges"/>
<path d="M324.3 414.5 V405 Q324.3 402 327.5 402 H336 Q339.6 402 339.6 405 V414.5" fill="none" stroke="#007dff" stroke-width="1.4" />
<line x1="328.50" y1="403.00" x2="328.50" y2="414.50" stroke="#007dff" stroke-width="1"  shape-rendering="crispEdges"/>
<line x1="335.50" y1="403.00" x2="335.50" y2="414.50" stroke="#007dff" stroke-width="1"  shape-rendering="crispEdges"/>
<line x1="331.50" y1="401.00" x2="331.50" y2="447.00" stroke="#ff8000" stroke-width="1"  shape-rendering="crispEdges"/>
<path d="M271.5 449 V441 Q271.5 437 277.6 437 Q283.7 437 283.7 441 V449" fill="none" stroke="#007dff" stroke-width="1.4" />
<line x1="274.50" y1="439.00" x2="274.50" y2="449.00" stroke="#007dff" stroke-width="1"  shape-rendering="crispEdges"/>
<line x1="280.50" y1="439.00" x2="280.50" y2="449.00" stroke="#007dff" stroke-width="1"  shape-rendering="crispEdges"/>
<line x1="277.50" y1="436.00" x2="277.50" y2="464.00" stroke="#ff8000" stroke-width="1"  shape-rendering="crispEdges"/>
<path d="M189.80 446.60 V441.20 Q189.80 439.20 191.80 439.20 H212.60 Q214.60 439.20 214.60 441.20 V446.60" fill="#fff" stroke="#007dff" stroke-width="1.9" />
<line x1="190.80" y1="442.50" x2="213.60" y2="442.50" stroke="#007dff" stroke-width="1"  shape-rendering="crispEdges"/>
<path d="M182.60 446.60 H221.80 L226.00 450.17 V464.03 L221.80 467.60 H182.60 L178.40 464.03 V450.17 Z" fill="#fff" stroke="#007dff" stroke-width="1.9" />
<line x1="190.00" y1="447.80" x2="190.00" y2="466.40" stroke="#007dff" stroke-width="2"  shape-rendering="crispEdges"/>
<line x1="214.00" y1="447.80" x2="214.00" y2="466.40" stroke="#007dff" stroke-width="2"  shape-rendering="crispEdges"/>
<path d="M190.30 449.00 Q202.20 446.20 214.10 449.00" fill="none" stroke="#007dff" stroke-width="1.52" />
<path d="M190.30 465.20 Q202.20 468.00 214.10 465.20" fill="none" stroke="#007dff" stroke-width="1.52" />
<path d="M182.50 467.60 V473.30 M221.90 467.60 V473.30" fill="none" stroke="#007dff" stroke-width="1.9" />
<path d="M199.70 467.60 L203.20 473.30 M202.70 467.60 L206.20 473.30" fill="none" stroke="#007dff" stroke-width="1.0" />
<rect x="176.80" y="473.30" width="50.80" height="5.30" fill="none" stroke="#007dff" stroke-width="1.9"  shape-rendering="crispEdges"/>
<line x1="201.50" y1="427.00" x2="201.50" y2="504.80" stroke="#ff8000" stroke-width="1"  shape-rendering="crispEdges"/>
<line x1="189.00" y1="479.10" x2="189.00" y2="504.80" stroke="#007dff" stroke-width="4"  shape-rendering="crispEdges"/>
<line x1="215.00" y1="479.10" x2="215.00" y2="504.80" stroke="#007dff" stroke-width="4"  shape-rendering="crispEdges"/>
<line x1="191.50" y1="479.50" x2="191.50" y2="489.00" stroke="#000" stroke-width="1"  shape-rendering="crispEdges"/>
<line x1="212.50" y1="479.50" x2="212.50" y2="489.00" stroke="#000" stroke-width="1"  shape-rendering="crispEdges"/>
<line x1="191.30" y1="489.00" x2="212.60" y2="489.00" stroke="#007dff" stroke-width="2"  shape-rendering="crispEdges"/>
<path d="M143.50 504.80 L248.50 504.80 L248.50 648.00 L143.50 648.00 Z M190.40 504.80 L214.50 504.80 L214.50 626.00 L207.00 634.00 L151.80 634.00 L151.80 608.80 L180.00 608.80 L190.40 598.00 Z" fill="url(#conc)" fill-rule="evenodd" stroke="none"/>
<rect x="143.50" y="504.80" width="105.00" height="143.20" fill="none" stroke="#007dff" stroke-width="1.8"  shape-rendering="crispEdges"/>
<path d="M190.4 504.8 V552 M214.5 504.8 V556" fill="none" stroke="#007dff" stroke-width="2.0" />
<line x1="190.40" y1="534.50" x2="214.50" y2="534.50" stroke="#007dff" stroke-width="1"  shape-rendering="crispEdges"/>
<path d="M190.4 552 Q191 556 197 555.5 Q201 553 203 557.5 H214.5" fill="none" stroke="#007dff" stroke-width="1.4" />
<path d="M190.4 567 Q192 562 197 561.5 Q201 560 203 563.5 H214.5" fill="none" stroke="#007dff" stroke-width="1.4" />
<path d="M190.4 567 V597 Q190 606 180 608.8 H151.8 V634 H203 Q214.5 632 214.5 620 V563.5" fill="none" stroke="#007dff" stroke-width="1.6" />
<line x1="201.50" y1="504.80" x2="201.50" y2="622.00" stroke="#ff8000" stroke-width="1" stroke-dasharray="9 3"/>
<path d="M139.50 504.80 C139.08 510.00 137.83 523.47 137.00 536.00 C136.17 548.53 135.08 567.08 134.50 580.00 C133.92 592.92 133.58 602.83 133.50 613.50 C133.42 624.17 133.25 637.42 134.00 644.00 C134.75 650.58 136.17 650.67 138.00 653.00 C139.83 655.33 140.75 656.62 145.00 658.00 C149.25 659.38 154.33 661.30 163.50 661.30 C172.67 661.30 188.08 659.05 200.00 658.00 C211.92 656.95 226.67 655.73 235.00 655.00 C243.33 654.27 245.83 654.60 250.00 653.60 C254.17 652.60 257.45 650.53 260.00 649.00 C262.55 647.47 263.13 649.30 265.30 644.40 C267.47 639.50 271.22 630.42 273.00 619.60 C274.78 608.78 275.83 591.93 276.00 579.50 C276.17 567.07 274.75 554.75 274.00 545.00 C273.25 535.25 272.67 526.67 271.50 521.00 C270.33 515.33 269.08 513.50 267.00 511.00 C264.92 508.50 262.08 507.03 259.00 506.00 C255.92 504.97 250.25 505.00 248.50 504.80" fill="none" stroke="#000" stroke-width="1.0" />
<path d="M722.80 447.40 L892.60 447.40 L892.60 448.00 L890.50 460.60 L886.00 466.50 L879.30 469.10 L851.00 469.80 L822.80 468.40 L800.00 474.00 L783.30 480.00 L770.00 481.00 L755.00 480.00 L738.20 476.20 L729.00 470.50 L724.80 466.30 L722.80 463.00 Z M755.00 447.40 L770.70 447.40 L770.70 473.50 L755.00 473.50 Z" fill="url(#hA)" fill-rule="evenodd" stroke="none"/>
<path d="M733.60 443.00 L733.60 434.00 L736.00 431.00 L790.00 431.00 L797.00 406.80 L823.00 406.80 L820.00 412.80 L817.50 418.30 L806.70 418.30 L799.50 443.00 Z M755.00 431.00 L770.70 431.00 L770.70 443.00 L755.00 443.00 Z" fill="url(#hA)" fill-rule="evenodd" stroke="none"/>
<path d="M722.80 443.00 L805.00 443.00 L805.00 447.40 L722.80 447.40 Z" fill="url(#hB)" fill-rule="evenodd" stroke="none"/>
<path d="M722.8 470 V443 H1279.3" fill="none" stroke="#007dff" stroke-width="1.7" />
<line x1="722.50" y1="474.00" x2="722.50" y2="478.00" stroke="#007dff" stroke-width="1"  shape-rendering="crispEdges"/>
<line x1="722.80" y1="447.00" x2="1296.00" y2="447.00" stroke="#007dff" stroke-width="2"  shape-rendering="crispEdges"/>
<path d="M733.6 443 V434 Q733.6 431 736.6 431 H790 L797 406.8" fill="none" stroke="#007dff" stroke-width="1.5" />
<path d="M799.5 443 L806.7 418.3 H817.5 L820 412.8" fill="none" stroke="#007dff" stroke-width="1.5" />
<line x1="797.00" y1="407.00" x2="1200.00" y2="407.00" stroke="#007dff" stroke-width="2"  shape-rendering="crispEdges"/>
<path d="M820 412.8 L832.9 412.8 Q834.1 412.8 834.1 414.3 V417.4 Q837.3 421.1 840.5 417.4 V414.3 Q840.5 412.8 841.7 412.8 L854.4 412.8 Q855.6 412.8 855.6 414.3 V417.4 Q858.8 421.1 862.0 417.4 V414.3 Q862.0 412.8 863.2 412.8 L878 412.8 Q879.5 412.8 879.5 414.3 V417.5 Q880 419 883.6 419" fill="none" stroke="#007dff" stroke-width="1.5" />
<path d="M883.6 412.8 V419 H902 V412.8 L902.0 412.8 Q903.2 412.8 903.2 414.3 V417.4 Q906.4 421.1 909.6 417.4 V414.3 Q909.6 412.8 910.8 412.8 L909.5 412.8 M888.4 412.8 V419 M896.8 412.8 V419" fill="none" stroke="#007dff" stroke-width="1.5" />
<path d="M966.5 412.8 L966.6 412.8 Q967.8 412.8 967.8 414.3 V417.4 Q971.0 421.1 974.2 417.4 V414.3 Q974.2 412.8 975.4 412.8 L989.3 412.8" fill="none" stroke="#007dff" stroke-width="1.5" />
<path d="M1009.8 412.8 L1023.9 412.8 Q1025.1 412.8 1025.1 414.3 V417.4 Q1028.3 421.1 1031.5 417.4 V414.3 Q1031.5 412.8 1032.7 412.8 L1037 412.8" fill="none" stroke="#007dff" stroke-width="1.5" />
<path d="M989.00 406.80 L989.30 412.80 L991.00 417.00 L994.40 420.00 L994.40 443.00 L1005.20 443.00 L1005.20 420.00 L1008.60 417.00 L1009.80 412.80 L1010.00 406.80 Z" fill="url(#hA)" fill-rule="evenodd" stroke="none"/>
<path d="M989 406.8 Q989 417.5 994.4 420 V443 M1010 406.8 Q1010 417.5 1005.2 420 V443" fill="none" stroke="#007dff" stroke-width="1.7" />
<path d="M963.00 443.00 L1008.00 443.00 L1008.00 447.40 L963.00 447.40 Z" fill="url(#hB)" fill-rule="evenodd" stroke="none"/>
<path d="M904.50 391.00 C905.25 391.75 908.12 393.00 909.00 395.50 C909.88 398.00 909.70 402.42 909.80 406.00 C909.90 409.58 910.07 414.33 909.60 417.00 C909.13 419.67 909.10 419.23 907.00 422.00 C904.90 424.77 899.33 430.40 897.00 433.60 C894.67 436.80 893.83 438.80 893.00 441.20 C892.17 443.60 892.42 444.77 892.00 448.00 C891.58 451.23 891.50 457.52 890.50 460.60 C889.50 463.68 887.87 465.08 886.00 466.50 C884.13 467.92 885.13 468.55 879.30 469.10 C873.47 469.65 860.42 469.92 851.00 469.80 C841.58 469.68 831.30 467.70 822.80 468.40 C814.30 469.10 806.58 472.07 800.00 474.00 C793.42 475.93 786.08 479.00 783.30 480.00" fill="none" stroke="#000" stroke-width="1.0" />
<path d="M722.80 463.00 C723.13 463.55 723.77 465.05 724.80 466.30 C725.83 467.55 726.77 468.85 729.00 470.50 C731.23 472.15 733.87 474.62 738.20 476.20 C742.53 477.78 752.20 479.37 755.00 480.00" fill="none" stroke="#000" stroke-width="1.0" />
<path d="M964.00 407.00 C964.50 408.83 966.75 414.17 967.00 418.00 C967.25 421.83 966.08 426.67 965.50 430.00 C964.92 433.33 963.92 435.10 963.50 438.00 C963.08 440.90 963.08 445.83 963.00 447.40" fill="none" stroke="#000" stroke-width="1.0" />
<path d="M1037.00 407.00 C1036.92 408.50 1037.50 413.17 1036.50 416.00 C1035.50 418.83 1033.75 421.75 1031.00 424.00 C1028.25 426.25 1023.00 427.67 1020.00 429.50 C1017.00 431.33 1014.75 433.08 1013.00 435.00 C1011.25 436.92 1010.08 440.00 1009.50 441.00" fill="none" stroke="#000" stroke-width="1.0" />
<rect x="748.60" y="411.90" width="28.00" height="14.90" fill="none" stroke="#007dff" stroke-width="1.5"  shape-rendering="crispEdges"/>
<line x1="755.50" y1="411.90" x2="755.50" y2="426.80" stroke="#007dff" stroke-width="1"  shape-rendering="crispEdges"/>
<line x1="769.50" y1="411.90" x2="769.50" y2="426.80" stroke="#007dff" stroke-width="1"  shape-rendering="crispEdges"/>
<rect x="750.50" y="426.80" width="24.20" height="4.20" fill="none" stroke="#007dff" stroke-width="1.3"  shape-rendering="crispEdges"/>
<path d="M755 431 V473.5 M770.7 431 V473.5" fill="none" stroke="#007dff" stroke-width="2.0" />
<path d="M755 473.5 Q762.8 477.5 770.7 473.5" fill="none" stroke="#007dff" stroke-width="1.4" />
<line x1="756.00" y1="437.50" x2="770.00" y2="437.50" stroke="#007dff" stroke-width="1"  shape-rendering="crispEdges"/>
<line x1="757.50" y1="438.00" x2="757.50" y2="472.00" stroke="#000" stroke-width="1"  shape-rendering="crispEdges"/>
<line x1="762.50" y1="405.00" x2="762.50" y2="483.00" stroke="#ff8000" stroke-width="1" stroke-dasharray="36 3 2 3"/>
<line x1="779.00" y1="395.50" x2="881.00" y2="395.50" stroke="#ff8000" stroke-width="1" stroke-dasharray="36 3 2 3"/>
<path d="M796.5 390.5 H786.5 L781.8 395 L786.5 399.5 H796.5 Q799 395 796.5 390.5 Z" fill="none" stroke="#007dff" stroke-width="1.4" />
<circle cx="792.00" cy="395.00" r="2.20" fill="none" stroke="#ff8000" stroke-width="1" />
<line x1="792.50" y1="390.50" x2="792.50" y2="399.50" stroke="#ff8000" stroke-width="1"  shape-rendering="crispEdges"/>
<path d="M811.5 390.5 H804.3 V399.6 H811.5" fill="none" stroke="#000" stroke-width="1.3" />
<rect x="811.50" y="383.60" width="22.30" height="23.20" fill="none" stroke="#007dff" stroke-width="1.6"  shape-rendering="crispEdges"/>
<path d="M833.8 389.6 H866.7 V400.8 H833.8 M833.8 392.6 H866.7 M833.8 397.8 H866.7 M866.7 392 H875 V398.5 H866.7" fill="none" stroke="#007dff" stroke-width="1.4" />
<rect x="883.20" y="379.70" width="18.80" height="10.10" fill="none" stroke="#007dff" stroke-width="1.7"  shape-rendering="crispEdges"/>
<line x1="888.50" y1="379.70" x2="888.50" y2="389.80" stroke="#007dff" stroke-width="1"  shape-rendering="crispEdges"/>
<line x1="896.50" y1="379.70" x2="896.50" y2="389.80" stroke="#007dff" stroke-width="1"  shape-rendering="crispEdges"/>
<line x1="903.50" y1="369.00" x2="903.50" y2="390.50" stroke="#007dff" stroke-width="3"  shape-rendering="crispEdges"/>
<path d="M888 379.7 V367.3 H897 V379.7" fill="none" stroke="#007dff" stroke-width="1.5" />
<line x1="887.50" y1="372.70" x2="887.50" y2="379.50" stroke="#000" stroke-width="1"  shape-rendering="crispEdges"/>
<line x1="897.50" y1="372.70" x2="897.50" y2="379.50" stroke="#000" stroke-width="1"  shape-rendering="crispEdges"/>
<line x1="887.50" y1="390.00" x2="887.50" y2="405.70" stroke="#000" stroke-width="1" stroke-dasharray="5 2"/>
<line x1="897.50" y1="390.00" x2="897.50" y2="405.70" stroke="#000" stroke-width="1" stroke-dasharray="5 2"/>
<line x1="888.50" y1="390.00" x2="888.50" y2="412.80" stroke="#007dff" stroke-width="1"  shape-rendering="crispEdges"/>
<line x1="896.50" y1="390.00" x2="896.50" y2="412.80" stroke="#007dff" stroke-width="1"  shape-rendering="crispEdges"/>
<line x1="892.50" y1="366.00" x2="892.50" y2="423.00" stroke="#ff8000" stroke-width="1"  shape-rendering="crispEdges"/>
<line x1="874.00" y1="392.40" x2="886.00" y2="405.70" stroke="#000" stroke-width="0.9" />
<line x1="898.20" y1="394.30" x2="907.70" y2="403.80" stroke="#000" stroke-width="0.9" />
<path d="M904.5 391 L909 395.5" fill="none" stroke="#000" stroke-width="1.0" />
<line x1="1120.00" y1="395.50" x2="1221.00" y2="395.50" stroke="#ff8000" stroke-width="1" stroke-dasharray="36 3 2 3"/>
<path d="M1095.2 366.4 V391 H1132.4" fill="none" stroke="#007dff" stroke-width="2.4" />
<path d="M1124 391 V406.8 M1124 398 H1132 M1132 389.9 V400.6 H1164.8 M1132 389.9 H1164.8" fill="none" stroke="#007dff" stroke-width="1.5" />
<rect x="1164.80" y="382.50" width="23.90" height="24.30" fill="none" stroke="#007dff" stroke-width="1.7"  shape-rendering="crispEdges"/>
<path d="M1188.7 390.5 H1195 M1188.7 399.5 H1195" fill="none" stroke="#000" stroke-width="1.3" />
<path d="M1195 390.5 V399.5 M1195 390.5 H1212.5 Q1217 392 1217 395 Q1217 398 1212.5 399.5 H1195" fill="none" stroke="#007dff" stroke-width="1.5" />
<path d="M1206.4 391.6 L1209.4 395 L1206.4 398.4 L1203.4 395 Z" fill="none" stroke="#007dff" stroke-width="1.1" />
<line x1="1206.50" y1="390.00" x2="1206.50" y2="400.00" stroke="#ff8000" stroke-width="1"  shape-rendering="crispEdges"/>
<rect x="1097.20" y="379.80" width="19.40" height="9.40" fill="none" stroke="#007dff" stroke-width="1.7"  shape-rendering="crispEdges"/>
<line x1="1102.50" y1="379.80" x2="1102.50" y2="389.20" stroke="#007dff" stroke-width="1"  shape-rendering="crispEdges"/>
<line x1="1111.50" y1="379.80" x2="1111.50" y2="389.20" stroke="#007dff" stroke-width="1"  shape-rendering="crispEdges"/>
<line x1="1097.20" y1="379.80" x2="1101.80" y2="375.20" stroke="#007dff" stroke-width="1.3" />
<path d="M1102.5 379.8 V367.7 H1111.9 V379.8" fill="none" stroke="#007dff" stroke-width="1.4" />
<line x1="1102.50" y1="371.80" x2="1102.50" y2="379.80" stroke="#000" stroke-width="1"  shape-rendering="crispEdges"/>
<line x1="1111.50" y1="371.80" x2="1111.50" y2="379.80" stroke="#000" stroke-width="1"  shape-rendering="crispEdges"/>
<line x1="1106.50" y1="366.40" x2="1106.50" y2="412.60" stroke="#ff8000" stroke-width="1"  shape-rendering="crispEdges"/>
<line x1="1100.50" y1="392.00" x2="1100.50" y2="406.60" stroke="#000" stroke-width="1" stroke-dasharray="5 2.5"/>
<line x1="1112.50" y1="392.00" x2="1112.50" y2="406.60" stroke="#000" stroke-width="1" stroke-dasharray="5 2.5"/>
<path d="M1201 406.8 L1210.4 431 H1263.5 L1266.6 434 V443" fill="none" stroke="#007dff" stroke-width="1.6" />
<rect x="1222.50" y="411.40" width="29.00" height="16.40" fill="none" stroke="#007dff" stroke-width="1.5"  shape-rendering="crispEdges"/>
<line x1="1229.50" y1="411.40" x2="1229.50" y2="427.80" stroke="#007dff" stroke-width="1"  shape-rendering="crispEdges"/>
<line x1="1244.50" y1="411.40" x2="1244.50" y2="427.80" stroke="#007dff" stroke-width="1"  shape-rendering="crispEdges"/>
<rect x="1224.80" y="427.80" width="24.20" height="3.20" fill="none" stroke="#007dff" stroke-width="1.3"  shape-rendering="crispEdges"/>
<line x1="1236.50" y1="403.00" x2="1236.50" y2="484.00" stroke="#ff8000" stroke-width="1" stroke-dasharray="36 3 2 3"/>
<line x1="1191.50" y1="443.00" x2="1191.50" y2="447.40" stroke="#007dff" stroke-width="1"  shape-rendering="crispEdges"/>
<line x1="1279.50" y1="443.00" x2="1279.50" y2="447.40" stroke="#007dff" stroke-width="1"  shape-rendering="crispEdges"/>
<path d="M1085 444.7 V438.5 Q1085 435 1090.4 435 Q1095.8 435 1095.8 438.5 V444.7" fill="none" stroke="#007dff" stroke-width="1.4" />
<line x1="1088.50" y1="436.50" x2="1088.50" y2="444.70" stroke="#007dff" stroke-width="1"  shape-rendering="crispEdges"/>
<line x1="1092.50" y1="436.50" x2="1092.50" y2="444.70" stroke="#007dff" stroke-width="1"  shape-rendering="crispEdges"/>
<line x1="1090.50" y1="434.00" x2="1090.50" y2="462.00" stroke="#ff8000" stroke-width="1"  shape-rendering="crispEdges"/>
<path d="M567.6 411.5 V405 Q567.6 401 576 401 Q584.4 401 584.4 405 V409.5" fill="none" stroke="#007dff" stroke-width="1.7" />
<line x1="572.50" y1="403.50" x2="572.50" y2="410.00" stroke="#007dff" stroke-width="1"  shape-rendering="crispEdges"/>
<line x1="580.50" y1="403.50" x2="580.50" y2="408.80" stroke="#007dff" stroke-width="1"  shape-rendering="crispEdges"/>
<line x1="576.50" y1="400.00" x2="576.50" y2="415.00" stroke="#ff8000" stroke-width="1"  shape-rendering="crispEdges"/>
<path d="M1296 447.4 V481" fill="none" stroke="#007dff" stroke-width="1.7" />
<path d="M481.20 444.00 H519.80 L524.00 447.57 V460.03 L519.80 463.60 H481.20 L477.00 460.03 V447.57 Z" fill="#fff" stroke="#007dff" stroke-width="1.9" />
<line x1="489.00" y1="445.20" x2="489.00" y2="462.40" stroke="#007dff" stroke-width="2"  shape-rendering="crispEdges"/>
<line x1="512.00" y1="445.20" x2="512.00" y2="462.40" stroke="#007dff" stroke-width="2"  shape-rendering="crispEdges"/>
<path d="M488.75 446.40 Q500.50 443.60 512.25 446.40" fill="none" stroke="#007dff" stroke-width="1.52" />
<path d="M488.75 461.20 Q500.50 464.00 512.25 461.20" fill="none" stroke="#007dff" stroke-width="1.52" />
<path d="M480.50 463.60 V470.20 M520.50 463.60 V470.20" fill="none" stroke="#007dff" stroke-width="1.9" />
<path d="M498.00 463.60 L501.50 470.20 M501.00 463.60 L504.50 470.20" fill="none" stroke="#007dff" stroke-width="1.0" />
<rect x="475.00" y="470.20" width="51.00" height="5.30" fill="none" stroke="#007dff" stroke-width="1.9"  shape-rendering="crispEdges"/>
<line x1="489.50" y1="441.00" x2="489.50" y2="444.50" stroke="#000" stroke-width="1"  shape-rendering="crispEdges"/>
<line x1="512.50" y1="441.00" x2="512.50" y2="444.50" stroke="#000" stroke-width="1"  shape-rendering="crispEdges"/>
<line x1="500.50" y1="427.00" x2="500.50" y2="532.50" stroke="#ff8000" stroke-width="1"  shape-rendering="crispEdges"/>
<path d="M1018.60 443.50 V441.20 Q1018.60 439.20 1020.60 439.20 H1041.60 Q1043.60 439.20 1043.60 441.20 V443.50" fill="#fff" stroke="#007dff" stroke-width="1.9" />
<line x1="1019.60" y1="442.50" x2="1042.60" y2="442.50" stroke="#007dff" stroke-width="1"  shape-rendering="crispEdges"/>
<path d="M1012.00 443.50 H1050.20 L1054.40 447.07 V459.13 L1050.20 462.70 H1012.00 L1007.80 459.13 V447.07 Z" fill="#fff" stroke="#007dff" stroke-width="1.9" />
<line x1="1019.00" y1="444.70" x2="1019.00" y2="461.50" stroke="#007dff" stroke-width="2"  shape-rendering="crispEdges"/>
<line x1="1043.00" y1="444.70" x2="1043.00" y2="461.50" stroke="#007dff" stroke-width="2"  shape-rendering="crispEdges"/>
<path d="M1019.45 445.90 Q1031.10 443.10 1042.75 445.90" fill="none" stroke="#007dff" stroke-width="1.52" />
<path d="M1019.45 460.30 Q1031.10 463.10 1042.75 460.30" fill="none" stroke="#007dff" stroke-width="1.52" />
<path d="M1012.10 462.70 V469.20 M1050.10 462.70 V469.20" fill="none" stroke="#007dff" stroke-width="1.9" />
<path d="M1028.60 462.70 L1032.10 469.20 M1031.60 462.70 L1035.10 469.20" fill="none" stroke="#007dff" stroke-width="1.0" />
<rect x="1005.90" y="469.20" width="50.40" height="5.50" fill="none" stroke="#007dff" stroke-width="1.9"  shape-rendering="crispEdges"/>
<line x1="1031.50" y1="432.00" x2="1031.50" y2="512.00" stroke="#ff8000" stroke-width="1"  shape-rendering="crispEdges"/>
<path d="M1317.60 441.80 V440.90 Q1317.60 438.90 1319.60 438.90 H1339.60 Q1341.60 438.90 1341.60 440.90 V441.80" fill="#fff" stroke="#007dff" stroke-width="1.9" />
<line x1="1318.60" y1="442.50" x2="1340.60" y2="442.50" stroke="#007dff" stroke-width="1"  shape-rendering="crispEdges"/>
<path d="M1310.50 441.80 H1348.70 L1352.90 445.37 V460.43 L1348.70 464.00 H1310.50 L1306.30 460.43 V445.37 Z" fill="#fff" stroke="#007dff" stroke-width="1.9" />
<line x1="1318.00" y1="443.00" x2="1318.00" y2="462.80" stroke="#007dff" stroke-width="2"  shape-rendering="crispEdges"/>
<line x1="1341.00" y1="443.00" x2="1341.00" y2="462.80" stroke="#007dff" stroke-width="2"  shape-rendering="crispEdges"/>
<path d="M1317.95 444.20 Q1329.60 441.40 1341.25 444.20" fill="none" stroke="#007dff" stroke-width="1.52" />
<path d="M1317.95 461.60 Q1329.60 464.40 1341.25 461.60" fill="none" stroke="#007dff" stroke-width="1.52" />
<path d="M1311.10 464.00 V470.00 M1348.10 464.00 V470.00" fill="none" stroke="#007dff" stroke-width="1.9" />
<path d="M1327.10 464.00 L1330.60 470.00 M1330.10 464.00 L1333.60 470.00" fill="none" stroke="#007dff" stroke-width="1.0" />
<rect x="1304.10" y="470.00" width="51.00" height="4.40" fill="none" stroke="#007dff" stroke-width="1.9"  shape-rendering="crispEdges"/>
<line x1="1329.50" y1="432.00" x2="1329.50" y2="513.00" stroke="#ff8000" stroke-width="1"  shape-rendering="crispEdges"/>
<line x1="53.50" y1="82.50" x2="452.70" y2="82.50" stroke="#000" stroke-width="1"  shape-rendering="crispEdges"/>
<line x1="58.50" y1="82.40" x2="58.50" y2="504.80" stroke="#000" stroke-width="1"  shape-rendering="crispEdges"/>
<path d="M58.50 82.40 L60.30 94.90 L56.70 94.90 Z" fill="#000" stroke="none"/>
<path d="M58.50 504.80 L56.70 492.30 L60.30 492.30 Z" fill="#000" stroke="none"/>
<line x1="53.50" y1="504.50" x2="143.50" y2="504.50" stroke="#000" stroke-width="1"  shape-rendering="crispEdges"/>
<text transform="translate(53.50 294.50) rotate(-90) skewX(-7)" x="0" y="0" font-size="14.5" text-anchor="middle" fill="#000" font-style="italic" stroke="#fff" stroke-width="0.3" paint-order="fill stroke" textLength="24" lengthAdjust="spacingAndGlyphs" >426</text>
<line x1="58.50" y1="504.80" x2="58.50" y2="634.00" stroke="#000" stroke-width="1"  shape-rendering="crispEdges"/>
<path d="M58.50 504.80 L60.30 517.30 L56.70 517.30 Z" fill="#000" stroke="none"/>
<path d="M58.50 634.00 L56.70 621.50 L60.30 621.50 Z" fill="#000" stroke="none"/>
<line x1="53.50" y1="634.50" x2="152.00" y2="634.50" stroke="#000" stroke-width="1"  shape-rendering="crispEdges"/>
<text transform="translate(53.50 573.00) rotate(-90) skewX(-7)" x="0" y="0" font-size="14.5" text-anchor="middle" fill="#000" font-style="italic" stroke="#fff" stroke-width="0.3" paint-order="fill stroke" textLength="20" lengthAdjust="spacingAndGlyphs" >131</text>
<line x1="143.50" y1="648.00" x2="143.50" y2="706.00" stroke="#000" stroke-width="1"  shape-rendering="crispEdges"/>
<line x1="248.50" y1="648.00" x2="248.50" y2="706.00" stroke="#000" stroke-width="1"  shape-rendering="crispEdges"/>
<line x1="143.50" y1="701.50" x2="248.50" y2="701.50" stroke="#000" stroke-width="1"  shape-rendering="crispEdges"/>
<path d="M143.50 701.40 L156.00 699.60 L156.00 703.20 Z" fill="#000" stroke="none"/>
<path d="M248.50 701.40 L236.00 703.20 L236.00 699.60 Z" fill="#000" stroke="none"/>
<g transform="translate(180.60 697.20) rotate(0)" fill="none" stroke="#000" stroke-width="1"><circle cx="4.2" cy="-4.6" r="3.4"/><line x1="1.2" y1="1" x2="7.6" y2="-10.6"/></g>
<text transform="translate(190.20 697.00) skewX(-7)" x="0" y="0" font-size="14.5" text-anchor="start" fill="#000" font-style="italic" stroke="#fff" stroke-width="0.3" paint-order="fill stroke" textLength="19.5" lengthAdjust="spacingAndGlyphs" >105</text>
<line x1="96.50" y1="191.00" x2="96.50" y2="245.00" stroke="#000" stroke-width="1"  shape-rendering="crispEdges"/>
<line x1="196.50" y1="191.00" x2="196.50" y2="216.00" stroke="#000" stroke-width="1"  shape-rendering="crispEdges"/>
<line x1="96.40" y1="194.50" x2="196.70" y2="194.50" stroke="#000" stroke-width="1"  shape-rendering="crispEdges"/>
<path d="M96.40 194.50 L108.90 192.70 L108.90 196.30 Z" fill="#000" stroke="none"/>
<path d="M196.70 194.50 L184.20 196.30 L184.20 192.70 Z" fill="#000" stroke="none"/>
<text transform="translate(145.50 189.50) skewX(-7)" x="0" y="0" font-size="14.5" text-anchor="middle" fill="#000" font-style="italic" stroke="#fff" stroke-width="0.3" paint-order="fill stroke" textLength="29" lengthAdjust="spacingAndGlyphs" >100,5</text>
<line x1="122.50" y1="255.00" x2="122.50" y2="325.00" stroke="#000" stroke-width="1"  shape-rendering="crispEdges"/>
<path d="M122.50 255.00 L124.10 264.00 L120.90 264.00 Z" fill="#000" stroke="none"/>
<path d="M122.50 296.60 L120.90 287.60 L124.10 287.60 Z" fill="#000" stroke="none"/>
<line x1="118.00" y1="255.50" x2="127.00" y2="255.50" stroke="#000" stroke-width="1"  shape-rendering="crispEdges"/>
<line x1="118.00" y1="296.50" x2="127.00" y2="296.50" stroke="#000" stroke-width="1"  shape-rendering="crispEdges"/>
<g transform="translate(118.80 396.60) rotate(-90)" fill="none" stroke="#000" stroke-width="1"><circle cx="4.2" cy="-4.6" r="3.4"/><line x1="1.2" y1="1" x2="7.6" y2="-10.6"/></g>
<text transform="translate(118.50 386.00) rotate(-90) skewX(-7)" x="0" y="0" font-size="14.5" text-anchor="start" fill="#000" font-style="italic" stroke="#fff" stroke-width="0.3" paint-order="fill stroke" textLength="56" lengthAdjust="spacingAndGlyphs" >40H7/m6</text>
<line x1="122.50" y1="398.00" x2="122.50" y2="402.00" stroke="#000" stroke-width="1"  shape-rendering="crispEdges"/>
<line x1="440.50" y1="276.50" x2="996.50" y2="276.50" stroke="#000" stroke-width="1"  shape-rendering="crispEdges"/>
<path d="M440.10 276.00 L452.10 274.30 L452.10 277.70 Z" fill="#000" stroke="none"/>
<path d="M996.90 276.00 L984.90 277.70 L984.90 274.30 Z" fill="#000" stroke="none"/>
<text transform="translate(696.30 269.20) skewX(-7)" x="0" y="0" font-size="14.5" text-anchor="start" fill="#000" font-style="italic" stroke="#fff" stroke-width="0.3" paint-order="fill stroke" textLength="21.5" lengthAdjust="spacingAndGlyphs" >566</text>
<text transform="translate(717.00 272.30) skewX(-7)" x="0" y="0" font-size="9.8" text-anchor="start" fill="#222" font-style="italic" stroke="#fff" stroke-width="0.3" paint-order="fill stroke" textLength="19" lengthAdjust="spacingAndGlyphs" >-1,75</text>
<line x1="999.50" y1="84.50" x2="1427.00" y2="84.50" stroke="#000" stroke-width="1"  shape-rendering="crispEdges"/>
<line x1="1423.50" y1="84.60" x2="1423.50" y2="504.80" stroke="#000" stroke-width="1"  shape-rendering="crispEdges"/>
<path d="M1423.50 84.60 L1425.30 97.10 L1421.70 97.10 Z" fill="#000" stroke="none"/>
<path d="M1423.50 504.80 L1421.70 492.30 L1425.30 492.30 Z" fill="#000" stroke="none"/>
<line x1="1031.00" y1="504.50" x2="1427.00" y2="504.50" stroke="#000" stroke-width="1"  shape-rendering="crispEdges"/>
<text transform="translate(1419.50 297.00) rotate(-90) skewX(-7)" x="0" y="0" font-size="14.5" text-anchor="middle" fill="#000" font-style="italic" stroke="#fff" stroke-width="0.3" paint-order="fill stroke" textLength="23" lengthAdjust="spacingAndGlyphs" >424</text>
<line x1="1296.50" y1="390.00" x2="1296.50" y2="446.00" stroke="#000" stroke-width="1"  shape-rendering="crispEdges"/>
<line x1="1329.50" y1="390.00" x2="1329.50" y2="442.00" stroke="#000" stroke-width="1"  shape-rendering="crispEdges"/>
<line x1="1296.40" y1="395.50" x2="1329.60" y2="395.50" stroke="#000" stroke-width="1"  shape-rendering="crispEdges"/>
<path d="M1296.40 395.00 L1305.40 393.50 L1305.40 396.50 Z" fill="#000" stroke="none"/>
<path d="M1329.60 395.00 L1320.60 396.50 L1320.60 393.50 Z" fill="#000" stroke="none"/>
<text transform="translate(1310.00 391.60) skewX(-7)" x="0" y="0" font-size="14.5" text-anchor="middle" fill="#000" font-style="italic" stroke="#fff" stroke-width="0.3" paint-order="fill stroke" textLength="12.5" lengthAdjust="spacingAndGlyphs" >34</text>
<line x1="1297.50" y1="465.50" x2="1297.50" y2="522.00" stroke="#000" stroke-width="1"  shape-rendering="crispEdges"/>
<path d="M1297.60 474.40 L1296.10 465.40 L1299.10 465.40 Z" fill="#000" stroke="none"/>
<path d="M1297.60 504.80 L1299.10 513.80 L1296.10 513.80 Z" fill="#000" stroke="none"/>
<line x1="1292.00" y1="480.50" x2="1303.00" y2="480.50" stroke="#000" stroke-width="1"  shape-rendering="crispEdges"/>
<text transform="translate(1294.20 528.40) rotate(-90) skewX(-7)" x="0" y="0" font-size="14.5" text-anchor="middle" fill="#000" font-style="italic" stroke="#fff" stroke-width="0.3" paint-order="fill stroke" textLength="12" lengthAdjust="spacingAndGlyphs" >24</text>
<line x1="1297.50" y1="538.00" x2="1297.50" y2="542.00" stroke="#000" stroke-width="1"  shape-rendering="crispEdges"/>
<line x1="1367.20" y1="474.50" x2="1388.00" y2="474.50" stroke="#000" stroke-width="1"  shape-rendering="crispEdges"/>
<line x1="1383.50" y1="474.40" x2="1383.50" y2="517.00" stroke="#000" stroke-width="1"  shape-rendering="crispEdges"/>
<path d="M1383.00 474.40 L1384.50 483.40 L1381.50 483.40 Z" fill="#000" stroke="none"/>
<path d="M1383.00 504.80 L1381.50 495.80 L1384.50 495.80 Z" fill="#000" stroke="none"/>
<text transform="translate(1379.20 526.80) rotate(-90) skewX(-7)" x="0" y="0" font-size="14.5" text-anchor="middle" fill="#000" font-style="italic" stroke="#fff" stroke-width="0.3" paint-order="fill stroke" textLength="12.5" lengthAdjust="spacingAndGlyphs" >30</text>
<line x1="1383.50" y1="538.00" x2="1383.50" y2="542.00" stroke="#000" stroke-width="1"  shape-rendering="crispEdges"/>
<text transform="translate(732.40 710.80) skewX(-7)" x="0" y="0" font-size="14.5" text-anchor="middle" fill="#000" font-style="italic" stroke="#fff" stroke-width="0.3" paint-order="fill stroke" textLength="27" lengthAdjust="spacingAndGlyphs" >1282</text>
<rect x="491.90" y="110.00" width="4.80" height="4.80" fill="#000"/>
<line x1="494.30" y1="112.40" x2="545.00" y2="62.50" stroke="#000" stroke-width="1.1" />
<line x1="545.00" y1="62.50" x2="562.00" y2="62.50" stroke="#000" stroke-width="1"  shape-rendering="crispEdges"/>
<text transform="translate(549.50 57.60) skewX(-7)" x="0" y="0" font-size="21.5" text-anchor="start" fill="#000" font-style="italic" stroke="#fff" stroke-width="0.6" paint-order="fill stroke" textLength="7.5" lengthAdjust="spacingAndGlyphs" >1</text>
<line x1="761.70" y1="110.50" x2="787.70" y2="110.50" stroke="#000" stroke-width="1"  shape-rendering="crispEdges"/>
<line x1="761.70" y1="110.00" x2="999.50" y2="168.00" stroke="#000" stroke-width="1.1" />
<rect x="997.50" y="166.00" width="4.00" height="4.00" fill="#000"/>
<text transform="translate(767.00 104.60) skewX(-7)" x="0" y="0" font-size="21.5" text-anchor="start" fill="#000" font-style="italic" stroke="#fff" stroke-width="0.6" paint-order="fill stroke" textLength="16" lengthAdjust="spacingAndGlyphs" >11</text>
<line x1="761.70" y1="143.50" x2="791.00" y2="143.50" stroke="#000" stroke-width="1"  shape-rendering="crispEdges"/>
<line x1="761.70" y1="143.30" x2="816.00" y2="199.30" stroke="#000" stroke-width="1.1" />
<rect x="813.60" y="196.90" width="4.80" height="4.80" fill="#000"/>
<text transform="translate(767.00 137.80) skewX(-7)" x="0" y="0" font-size="21.5" text-anchor="start" fill="#000" font-style="italic" stroke="#fff" stroke-width="0.6" paint-order="fill stroke" textLength="18.5" lengthAdjust="spacingAndGlyphs" >12</text>
<rect x="358.00" y="488.00" width="4.80" height="4.80" fill="#000"/>
<line x1="360.30" y1="490.30" x2="435.50" y2="564.30" stroke="#000" stroke-width="1.1" />
<line x1="435.50" y1="564.50" x2="455.70" y2="564.50" stroke="#000" stroke-width="1"  shape-rendering="crispEdges"/>
<text transform="translate(438.50 558.60) skewX(-7)" x="0" y="0" font-size="21.5" text-anchor="start" fill="#000" font-style="italic" stroke="#fff" stroke-width="0.6" paint-order="fill stroke" textLength="10" lengthAdjust="spacingAndGlyphs" >4</text>
<rect x="199.10" y="532.80" width="4.80" height="4.80" fill="#000"/>
<line x1="201.50" y1="535.20" x2="322.40" y2="610.10" stroke="#000" stroke-width="1.1" />
<line x1="322.50" y1="610.10" x2="322.50" y2="685.50" stroke="#000" stroke-width="1"  shape-rendering="crispEdges"/>
<line x1="322.40" y1="610.50" x2="349.50" y2="610.50" stroke="#000" stroke-width="1"  shape-rendering="crispEdges"/>
<text transform="translate(327.80 607.80) skewX(-7)" x="0" y="0" font-size="20.5" text-anchor="start" fill="#000" font-style="italic" stroke="#fff" stroke-width="0.6" paint-order="fill stroke" textLength="10.5" lengthAdjust="spacingAndGlyphs" >5</text>
<line x1="322.40" y1="635.50" x2="349.50" y2="635.50" stroke="#000" stroke-width="1"  shape-rendering="crispEdges"/>
<text transform="translate(327.80 633.10) skewX(-7)" x="0" y="0" font-size="20.5" text-anchor="start" fill="#000" font-style="italic" stroke="#fff" stroke-width="0.6" paint-order="fill stroke" textLength="10.5" lengthAdjust="spacingAndGlyphs" >6</text>
<line x1="322.40" y1="660.50" x2="349.50" y2="660.50" stroke="#000" stroke-width="1"  shape-rendering="crispEdges"/>
<text transform="translate(327.80 658.20) skewX(-7)" x="0" y="0" font-size="20.5" text-anchor="start" fill="#000" font-style="italic" stroke="#fff" stroke-width="0.6" paint-order="fill stroke" textLength="10.5" lengthAdjust="spacingAndGlyphs" >7</text>
<line x1="322.40" y1="685.50" x2="349.50" y2="685.50" stroke="#000" stroke-width="1"  shape-rendering="crispEdges"/>
<text transform="translate(327.80 683.20) skewX(-7)" x="0" y="0" font-size="20.5" text-anchor="start" fill="#000" font-style="italic" stroke="#fff" stroke-width="0.6" paint-order="fill stroke" textLength="10.5" lengthAdjust="spacingAndGlyphs" >8</text>
<rect x="1327.20" y="448.90" width="4.80" height="4.80" fill="#000"/>
<line x1="1329.60" y1="451.30" x2="1361.30" y2="385.50" stroke="#000" stroke-width="1.1" />
<line x1="1361.50" y1="385.50" x2="1361.50" y2="459.00" stroke="#000" stroke-width="1"  shape-rendering="crispEdges"/>
<line x1="1361.30" y1="385.50" x2="1388.80" y2="385.50" stroke="#000" stroke-width="1"  shape-rendering="crispEdges"/>
<text transform="translate(1367.50 383.20) skewX(-7)" x="0" y="0" font-size="20.5" text-anchor="start" fill="#000" font-style="italic" stroke="#fff" stroke-width="0.6" paint-order="fill stroke" textLength="10.5" lengthAdjust="spacingAndGlyphs" >5</text>
<line x1="1361.30" y1="410.50" x2="1388.80" y2="410.50" stroke="#000" stroke-width="1"  shape-rendering="crispEdges"/>
<text transform="translate(1367.50 407.80) skewX(-7)" x="0" y="0" font-size="20.5" text-anchor="start" fill="#000" font-style="italic" stroke="#fff" stroke-width="0.6" paint-order="fill stroke" textLength="10.5" lengthAdjust="spacingAndGlyphs" >6</text>
<line x1="1361.30" y1="434.50" x2="1388.80" y2="434.50" stroke="#000" stroke-width="1"  shape-rendering="crispEdges"/>
<text transform="translate(1367.50 432.10) skewX(-7)" x="0" y="0" font-size="20.5" text-anchor="start" fill="#000" font-style="italic" stroke="#fff" stroke-width="0.6" paint-order="fill stroke" textLength="10.5" lengthAdjust="spacingAndGlyphs" >7</text>
<line x1="1361.30" y1="459.50" x2="1388.80" y2="459.50" stroke="#000" stroke-width="1"  shape-rendering="crispEdges"/>
<text transform="translate(1367.50 456.70) skewX(-7)" x="0" y="0" font-size="20.5" text-anchor="start" fill="#000" font-style="italic" stroke="#fff" stroke-width="0.6" paint-order="fill stroke" textLength="10.5" lengthAdjust="spacingAndGlyphs" >8</text>
</svg>
</body></html>
